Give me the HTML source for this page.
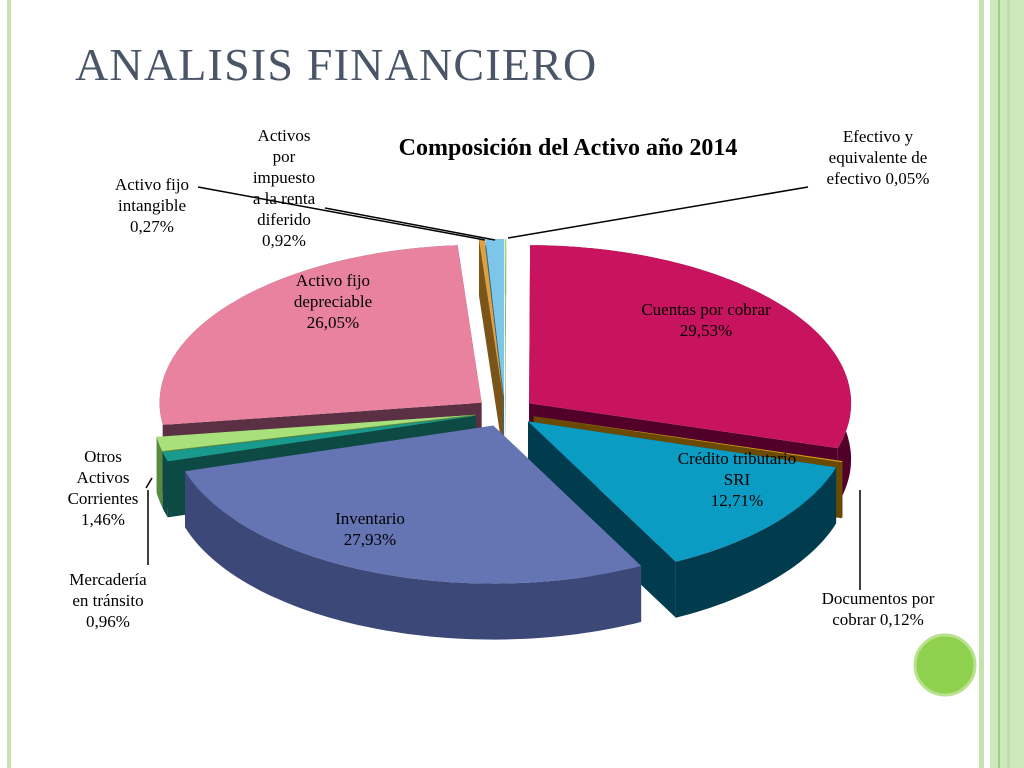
<!DOCTYPE html>
<html><head><meta charset="utf-8"><style>
body{margin:0;background:#fff;width:1024px;height:768px;overflow:hidden;position:relative;font-family:"Liberation Serif",serif}
</style></head><body>
<svg width="1024" height="768" style="position:absolute;left:0;top:0">
<rect x="7" y="0" width="4" height="768" fill="#c5e3b0"/>
<g>
<rect x="979" y="0" width="5" height="768" fill="#c5e3b0"/>
<rect x="990" y="0" width="34" height="768" fill="#cde8bb"/>
<rect x="998" y="0" width="2" height="768" fill="#9dd07a"/>
<rect x="1007" y="0" width="3" height="768" fill="#bfe0a8"/>
</g>
<text x="75" y="80" font-size="46" letter-spacing="1.2" fill="#4a5568" font-family="Liberation Serif">ANALISIS FINANCIERO</text>
<text x="568" y="155" font-size="24" font-weight="bold" text-anchor="middle" fill="#000">Composición del Activo año 2014</text>
<g id="pie"></g>
<g id="labels" font-size="17" fill="#000" text-anchor="middle"></g>
<circle cx="945" cy="665" r="30" fill="#8fd14f" stroke="#b8e28e" stroke-width="3"/>
</svg>
<script>
const categories=["Efectivo y equivalente de efectivo","Cuentas por cobrar","Documentos por cobrar","Crédito tributario SRI","Inventario","Mercadería en tránsito","Otros Activos Corrientes","Activo fijo depreciable","Activo fijo intangible","Activos por impuesto a la renta diferido"];
const values=[0.05,29.53,0.12,12.71,27.93,0.96,1.46,26.05,0.27,0.92];
const valueLabels=["0,05%","29,53%","0,12%","12,71%","27,93%","0,96%","1,46%","26,05%","0,27%","0,92%"];
const topColors=["#9ad86a","#c8145f","#d89a18","#0b9cc4","#6574b2","#1a9a8c","#a8e07c","#e8829f","#e0a040","#7cc6ea"];
const sideColors=["#4a7a30","#52002a","#6a4a00","#003c4e","#3c4878","#0d4a44","#5a8a40","#5c3044","#7a5418","#306a88"];
const NS="http://www.w3.org/2000/svg";
const cx=505,cy=412,rx=322,ry=158,depth=56,ex=30;
const total=values.reduce((a,b)=>a+b,0);
const pie=document.getElementById('pie');
function pt(a,dx,dy){return [cx+dx+rx*Math.sin(a),cy+dy-ry*Math.cos(a)];}
function poly(pts,fill,name){const p=document.createElementNS(NS,'path');p.setAttribute('d','M'+pts.map(q=>q[0].toFixed(1)+','+q[1].toFixed(1)).join('L')+'Z');p.setAttribute('fill',fill);


pie.appendChild(p);}
let acc=0;const slices=[];
values.forEach((v,i)=>{const a0=acc/total*2*Math.PI;acc+=v;const a1=acc/total*2*Math.PI;const m=(a0+a1)/2;slices.push({i,a0,a1,m});});
slices.sort((a,b)=>-Math.cos(a.m)-(-Math.cos(b.m)));
slices.forEach(s=>{
 const dx=ex*Math.sin(s.m),dy=-ex*Math.cos(s.m)*ry/rx;
 const n=Math.max(2,Math.ceil((s.a1-s.a0)*40));const arc=[];
 for(let k=0;k<=n;k++)arc.push(pt(s.a0+(s.a1-s.a0)*k/n,dx,dy));
 const c=[cx+dx,cy+dy];const d=q=>[q[0],q[1]+depth];
 poly([c,arc[0],d(arc[0]),d(c)],sideColors[s.i],'slice-side-'+s.i);
 poly([c,arc[n],d(arc[n]),d(c)],sideColors[s.i],'slice-side-'+s.i);
 poly(arc.concat(arc.slice().reverse().map(d)),sideColors[s.i],'slice-wall-'+s.i);
 poly([c].concat(arc),topColors[s.i],'slice-'+s.i);
});
const L=document.getElementById('labels');
function lab(lines,x,y,name){const t=document.createElementNS(NS,'text');t.setAttribute('x',x);t.setAttribute('y',y);


lines.forEach((l,k)=>{const s=document.createElementNS(NS,'tspan');s.setAttribute('x',x);s.setAttribute('dy',k?21:0);s.textContent=l;t.appendChild(s);});L.appendChild(t);}
function line(pts,name){const p=document.createElementNS(NS,'polyline');p.setAttribute('points',pts.join(' '));p.setAttribute('fill','none');p.setAttribute('stroke','#000');p.setAttribute('stroke-width','1.5');


L.appendChild(p);}
lab(["Efectivo y","equivalente de","efectivo    "+valueLabels[0]],878,142,'label-efectivo');
lab(["Cuentas por cobrar",valueLabels[1]],706,315,'label-cuentas');
lab(["Documentos por","cobrar       "+valueLabels[2]],878,604,'label-documentos');
lab(["Crédito tributario","SRI",valueLabels[3]],737,464,'label-credito');
lab(["Inventario",valueLabels[4]],370,524,'label-inventario');
lab(["Mercadería","en tránsito",valueLabels[5]],108,585,'label-mercaderia');
lab(["Otros","Activos","Corrientes",valueLabels[6]],103,462,'label-otros');
lab(["Activo fijo","depreciable",valueLabels[7]],333,286,'label-depreciable');
lab(["Activo fijo","intangible",valueLabels[8]],152,190,'label-intangible');
lab(["Activos","por","impuesto","a la renta","diferido",valueLabels[9]],284,141,'label-impuesto');
line(["808,187","508,238"],'leader-efectivo');
line(["198,187","485,240"],'leader-intangible');
line(["325,208","495,240"],'leader-impuesto');
line(["860,590","860,490"],'leader-documentos');
line(["148,565","148,490"],'leader-mercaderia');
line(["146,488","152,478"],'leader-otros');
</script>
</body></html>
